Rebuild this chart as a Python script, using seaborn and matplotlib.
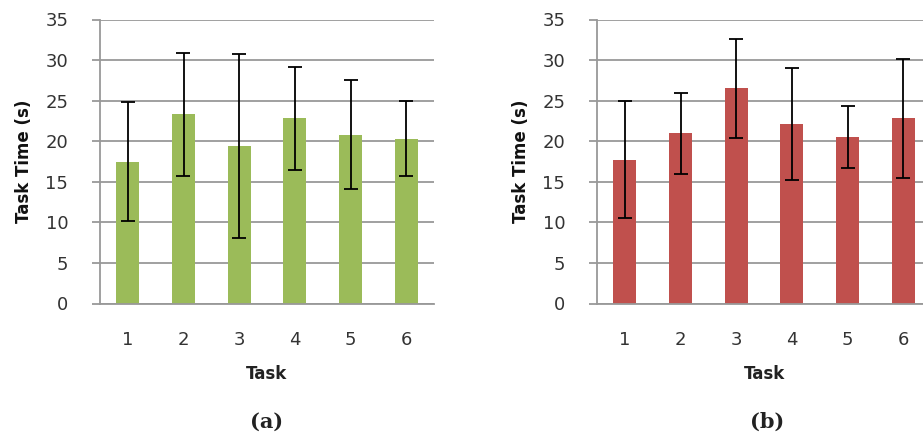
import numpy as np
import pandas as pd
import matplotlib
matplotlib.use("Agg")
import matplotlib.pyplot as plt
import seaborn as sns

tasks = ["1", "2", "3", "4", "5", "6"]
time_a = [17.5, 23.3, 19.4, 22.8, 20.8, 20.3]
err_a = [7.3, 7.6, 11.3, 6.3, 6.7, 4.6]
time_b = [17.7, 21.0, 26.5, 22.1, 20.5, 22.8]
err_b = [7.2, 5.0, 6.1, 6.9, 3.8, 7.3]

sns.set_style("white")
plt.rcParams['font.family'] = ['DejaVu Sans']

fig = plt.figure(figsize=(9.23, 4.34), dpi=100)
W, H = 923.0, 434.0
ax_a = fig.add_axes([100 / W, 1 - 303.5 / H, 334 / W, 284 / H])
ax_b = fig.add_axes([597 / W, 1 - 303.5 / H, 334 / W, 284 / H])

grey = "#999999"
txt = "#333333"
panels = [(ax_a, time_a, err_a, "#9BBB59", "(a)", 267),
          (ax_b, time_b, err_b, "#C0504D", "(b)", 767)]

for ax, vals, errs, col, tag, cx in panels:
    df = pd.DataFrame({"Task": tasks, "Time": vals})
    sns.barplot(data=df, x="Task", y="Time", color=col, width=0.41,
                saturation=1, linewidth=0, ax=ax, zorder=2)
    ax.errorbar(np.arange(len(tasks)), vals, yerr=errs, fmt="none",
                ecolor="black", elinewidth=1.3, capsize=4.7, capthick=1.3, zorder=3)
    ax.set_xlim(-0.5, 5.5)
    ax.set_ylim(0, 35)
    ax.set_yticks(range(0, 36, 5))
    ax.set_axisbelow(True)
    ax.yaxis.grid(True, color=grey, lw=1.3)
    for s in ["top", "right"]:
        ax.spines[s].set_visible(False)
    for s in ["left", "bottom"]:
        ax.spines[s].set_color(grey)
        ax.spines[s].set_linewidth(1.3)
    ax.set_xticks(np.arange(-0.5, 6, 1), minor=True)
    ax.tick_params(axis="x", which="major", length=0, pad=20, labelsize=13,
                   labelcolor=txt)
    ax.tick_params(axis="x", which="minor", length=5.8, width=1.3, color=grey,
                   direction="out")
    ax.tick_params(axis="y", length=5.8, width=1.3, color=grey, direction="out",
                   pad=17, labelsize=13, labelcolor=txt, left=True)
    ax.set_xlabel("Task", fontsize=12, fontweight="bold", labelpad=11, color="#222222")
    ax.set_ylabel("Task Time (s)", fontsize=12, fontweight="bold", labelpad=9,
                  color="#111111")
    fig.text(cx / W, 1 - 422 / H, tag, ha="center", va="center",
             fontsize=15, fontweight="bold", family="DejaVu Serif", color="#222222")

fig.savefig("out.png", dpi=100)
